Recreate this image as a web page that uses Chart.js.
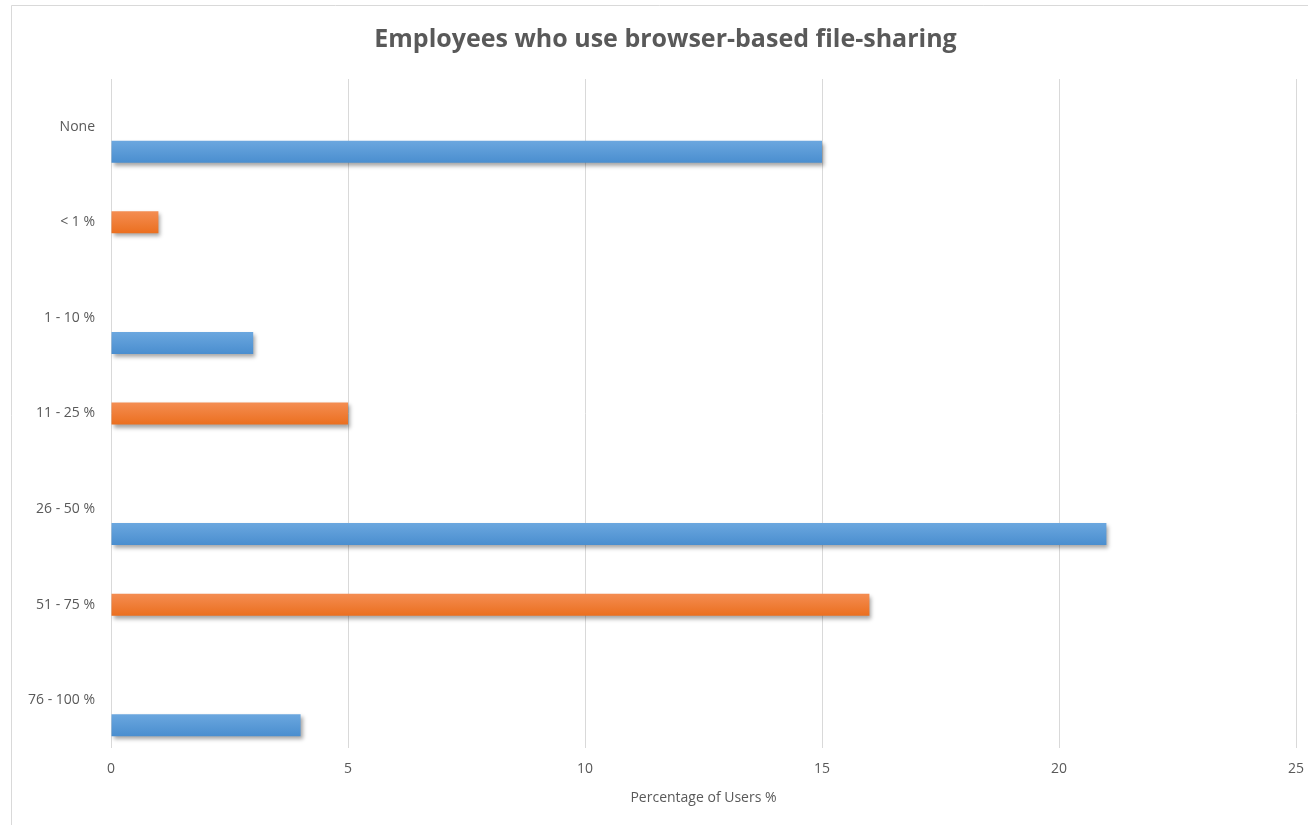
<!DOCTYPE html>
<html>
<head>
  <meta charset="utf-8">
  <title>Employees who use browser-based file-sharing</title>
  <script src="https://cdn.jsdelivr.net/npm/chart.js"></script>
  <style>
    body { margin: 0; padding: 0; background: #fff; }
    #wrap { width: 1308px; height: 825px; position: relative; }
  </style>
</head>
<body>
  <div id="wrap"><canvas id="myChart"></canvas></div>

  <script>
    const categories = ['None', '< 1 %', '1 - 10 %', '11 - 25 %', '26 - 50 %', '51 - 75 %', '76 - 100 %'];
    const blueValues = [15, null, 3, null, 21, null, 4];
    const orangeValues = [null, 1, null, 5, null, 16, null];
    const spacerValues = [null, null, null, null, null, null, null];
    const xTicks = [0, 5, 10, 15, 20, 25];

    const textColor = '#595959';
    const gridColor = '#d9d9d9';

    // outer frame (top + left line like the original)
    const framePlugin = {
      id: 'frame',
      beforeDraw(chart) {
        const c = chart.ctx;
        c.save();
        c.fillStyle = '#fff';
        c.fillRect(0, 0, chart.width, chart.height);
        c.strokeStyle = gridColor;
        c.lineWidth = 1;
        c.beginPath();
        c.moveTo(11.5, chart.height);
        c.lineTo(11.5, 5.5);
        c.lineTo(chart.width, 5.5);
        c.stroke();
        c.restore();
      },
      afterLayout(chart) {
        // original title sits a bit right of centre
        const t = chart.titleBlock;
        if (t) { t.left += 12; t.right += 12; }
      }
    };

    // gradient fill + soft shadow on the bars
    const barStyle = {
      id: 'barStyle',
      beforeDatasetsDraw(chart) {
        const c = chart.ctx;
        chart.data.datasets.forEach((ds, i) => {
          const meta = chart.getDatasetMeta(i);
          meta.data.forEach(el => {
            if (!ds.grad) return;
            const p = el.getProps(['y', 'height'], true);
            if (!p.height) return;
            const g = c.createLinearGradient(0, p.y - p.height / 2, 0, p.y + p.height / 2);
            g.addColorStop(0, ds.grad[0]);
            g.addColorStop(1, ds.grad[1]);
            el.options = Object.assign({}, el.options, { backgroundColor: g });
          });
        });
        c.save();
        c.shadowColor = 'rgba(0,0,0,0.35)';
        c.shadowBlur = 4;
        c.shadowOffsetX = 2;
        c.shadowOffsetY = 3;
      },
      afterDatasetsDraw(chart) {
        chart.ctx.restore();
      }
    };

    const ctx = document.getElementById('myChart').getContext('2d');
    new Chart(ctx, {
      type: 'bar',
      data: {
        labels: categories,
        datasets: [
          { label: 'spacer', data: spacerValues, backgroundColor: 'rgba(0,0,0,0)' },
          { label: 'orange', data: orangeValues, backgroundColor: '#ed7d31', grad: ['#f48d52', '#eb6f1f'] },
          { label: 'blue', data: blueValues, backgroundColor: '#5b9bd5', grad: ['#6ba7df', '#4a8ecf'] }
        ]
      },
      options: {
        indexAxis: 'y',
        responsive: true,
        maintainAspectRatio: false,
        animation: false,
        categoryPercentage: 0.785,
        barPercentage: 0.88,
        layout: { padding: { left: 11, right: 12, top: 5, bottom: 0 } },
        plugins: {
          legend: { display: false },
          tooltip: { enabled: false },
          title: {
            display: true,
            text: 'Employees who use browser-based file-sharing',
            color: textColor,
            font: { family: 'Open Sans', size: 25, weight: 'bold' },
            padding: { top: 20, bottom: 24 }
          }
        },
        scales: {
          x: {
            min: 0,
            max: 25,
            afterBuildTicks(scale) { scale.ticks = xTicks.map(v => ({ value: v })); },
            afterFit(scale) {
              scale.height = 77;
              scale.paddingLeft = 0;
              scale.paddingRight = 0;
            },
            grid: { color: gridColor, drawTicks: false },
            border: { display: false },
            ticks: { color: textColor, padding: 13, font: { family: 'Open Sans', size: 14 } },
            title: {
              display: true,
              text: 'Percentage of Users %',
              color: textColor,
              font: { family: 'Open Sans', size: 14 },
              padding: { top: 4, bottom: 19 }
            }
          },
          y: {
            afterFit(scale) { scale.width = 100; },
            grid: { display: false, drawTicks: false },
            border: { display: false },
            ticks: { color: textColor, padding: 16, font: { family: 'Open Sans', size: 14 } }
          }
        }
      },
      plugins: [framePlugin, barStyle]
    });
  </script>
</body>
</html>
